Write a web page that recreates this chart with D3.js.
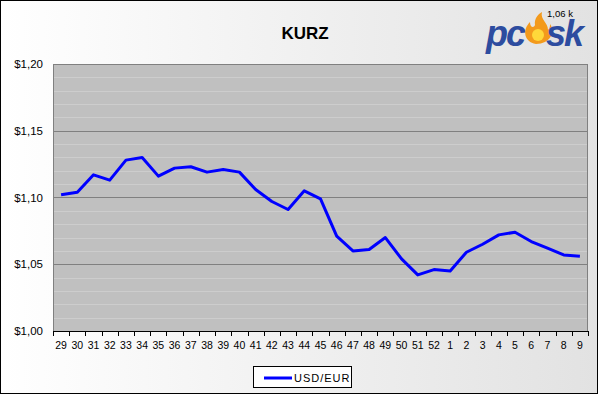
<!DOCTYPE html>
<html>
<head>
<meta charset="utf-8">
<script src="https://cdn.jsdelivr.net/npm/d3@7"></script>
<style>
body { margin: 0; }
svg { display: block; font-family: Arial, "Liberation Sans", sans-serif; }
</style>
</head>
<body>
<svg></svg>
<script>
var width = 598;
var height = 395;

// week numbers
var weeks = ["29","30","31","32","33","34","35","36","37","38","39","40","41","42","43","44","45","46","47","48","49","50","51","52","1","2","3","4","5","6","7","8","9"];
var usdEur = [1.102,1.104,1.117,1.113,1.128,1.130,1.116,1.122,1.123,1.119,1.121,1.119,1.106,1.097,1.091,1.105,1.099,1.071,1.060,1.061,1.070,1.054,1.042,1.046,1.045,1.059,1.065,1.072,1.074,1.067,1.062,1.057,1.056];
var yTicks = [1.00,1.05,1.10,1.15,1.20];
var seriesName = "USD/EUR";

var margin = {top: 64, right: 10, bottom: 64, left: 53};
var plotW = 588 - margin.left;
var plotH = 331 - margin.top;

var svg = d3.select('svg').attr('width', width).attr('height', height);

//background gradient
var grad = svg.append('defs').append('linearGradient').attr('id', 'bg')
    .attr('x1', 0).attr('x2', 1).attr('y1', 0).attr('y2', 0);
grad.append('stop').attr('offset', '0%').attr('stop-color', '#ffffff');
grad.append('stop').attr('offset', '100%').attr('stop-color', '#e2e2e2');

svg.append('rect')
    .attr('x', 0.5).attr('y', 0.5)
    .attr('width', width - 1).attr('height', height - 2)
    .attr('fill', 'url(#bg)')
    .attr('stroke', 'black');

svg.append('text')
    .attr('x', 305).attr('y', 39)
    .attr('text-anchor', 'middle')
    .attr('font-size', 17).attr('font-weight', 'bold')
    .text('KURZ');

// logo
var logo = svg.append('g').attr('transform', 'translate(486,46)');
logo.append('text').attr('x', 0).attr('y', 0)
    .attr('font-size', 36).attr('font-weight', 'bold').attr('font-style', 'italic')
    .attr('fill', '#2d4c9f').attr('letter-spacing', -2)
    .text('pc');
logo.append('path')
    .attr('d', 'M50,-2 C38,-4 36,-16 44,-24 C44,-18 48,-18 49,-21 C48,-27 52,-32 56,-34 C54,-26 62,-24 62,-16 C64,-18 64,-20 64,-22 C70,-14 64,-2 50,-2 Z')
    .attr('fill', '#f39a1c');
logo.append('circle').attr('cx', 52).attr('cy', -11).attr('r', 6).attr('fill', '#ffd83a');
logo.append('text').attr('x', 60).attr('y', 0)
    .attr('font-size', 36).attr('font-weight', 'bold').attr('font-style', 'italic')
    .attr('fill', '#2d4c9f').attr('letter-spacing', -2)
    .text('sk');
svg.append('text').attr('x', 547).attr('y', 17)
    .attr('font-size', 9.5).attr('fill', 'black')
    .text('1,06 k');

var chart = svg.append('g')
    .attr('transform', 'translate(' + margin.left + ',' + margin.top + ')');

var x = d3.scaleBand().domain(weeks).range([0, plotW]);
var y = d3.scaleLinear().domain([1.00, 1.20]).range([plotH, 0]);

chart.append('rect')
    .attr('width', plotW).attr('height', plotH)
    .attr('fill', '#c0c0c0');

//minor grid every 0.01
var minor = d3.range(1.01, 1.2, 0.01).filter(v => Math.round(v * 100) % 5 !== 0);
chart.selectAll('.minor').data(minor).enter().append('line')
    .attr('x1', 0).attr('x2', plotW)
    .attr('y1', d => Math.round(y(d)) + 0.5).attr('y2', d => Math.round(y(d)) + 0.5)
    .attr('stroke', '#cdcdcd');

chart.selectAll('.major').data(yTicks.slice(1)).enter().append('line')
    .attr('x1', 0).attr('x2', plotW)
    .attr('y1', d => Math.round(y(d)) + 0.5).attr('y2', d => Math.round(y(d)) + 0.5)
    .attr('stroke', '#808080');

chart.append('rect')
    .attr('x', 0.5).attr('y', 0.5)
    .attr('width', plotW - 1).attr('height', plotH)
    .attr('fill', 'none').attr('stroke', '#808080');

//y labels
chart.selectAll('.ylab').data(yTicks).enter().append('text')
    .attr('x', -10).attr('y', d => y(d) + 4)
    .attr('text-anchor', 'end').attr('font-size', 11.5)
    .text(d => '$' + d.toFixed(2).replace('.', ','));

//x axis
var xAxis = chart.append('g').attr('transform', 'translate(0,' + plotH + ')');
xAxis.append('line').attr('x1', 0).attr('x2', plotW).attr('y1', 0.5).attr('y2', 0.5).attr('stroke', 'black');
xAxis.selectAll('.tick').data(weeks.concat(['end'])).enter().append('line')
    .attr('x1', (d, i) => Math.round(i * x.step()) + 0.5)
    .attr('x2', (d, i) => Math.round(i * x.step()) + 0.5)
    .attr('y1', 0).attr('y2', 5)
    .attr('stroke', 'black');
xAxis.selectAll('.xlab').data(weeks).enter().append('text')
    .attr('x', d => x(d) + x.bandwidth() / 2)
    .attr('y', 18)
    .attr('text-anchor', 'middle').attr('font-size', 10.5)
    .text(d => d);

var line = d3.line()
    .x((d, i) => x(weeks[i]) + x.bandwidth() / 2)
    .y(d => y(d));

chart.append('path')
    .datum(usdEur)
    .attr('fill', 'none')
    .attr('stroke', '#0000ff')
    .attr('stroke-width', 3)
    .attr('stroke-linejoin', 'round')
    .attr('d', line);

//legend
var legend = svg.append('g').attr('transform', 'translate(253,366)');
legend.append('rect').attr('x', 0.5).attr('y', 0.5).attr('width', 98).attr('height', 21)
    .attr('fill', 'white').attr('stroke', 'black');
legend.append('line').attr('x1', 11).attr('x2', 39).attr('y1', 12).attr('y2', 12)
    .attr('stroke', '#0000ff').attr('stroke-width', 3);
legend.append('text').attr('x', 41).attr('y', 16)
    .attr('font-size', 11).attr('letter-spacing', 1)
    .text(seriesName);
</script>
</body>
</html>
